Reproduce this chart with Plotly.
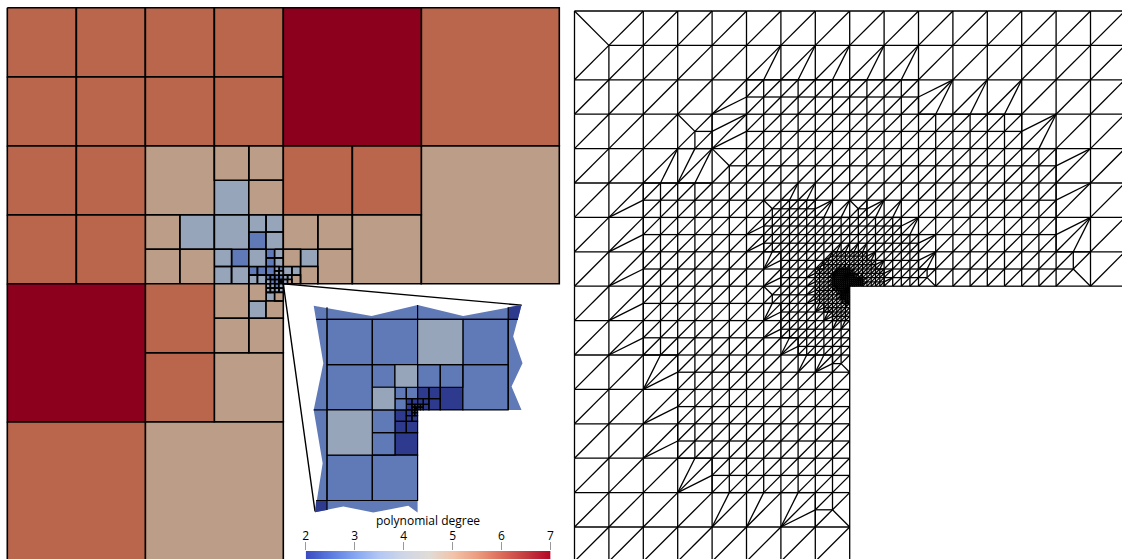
import plotly.graph_objects as go

# ---------- left panel: polynomial degree per quadtree cell (column, row, degree), one list per cell size
left_size2 = [(4,0,7),(6,0,6),(6,2,5),(0,4,7),(0,6,6),(2,6,5)]
left_size1 = [(0,0,6),(1,0,6),(2,0,6),(3,0,6),(0,1,6),(1,1,6),(2,1,6),(3,1,6),(0,2,6),(1,2,6),(2,2,5),
              (4,2,6),(5,2,6),(0,3,6),(1,3,6),(5,3,5),(2,4,6),(2,5,6),(3,5,5)]
left_half = [(3,2,5),(3.5,2,5),(3,2.5,4),(3.5,2.5,5),(2,3,5),(2.5,3,4),(2,3.5,5),(2.5,3.5,5),(3,3,4),
             (4,3,5),(4.5,3,5),(4.5,3.5,5),(3,4,5),(3,4.5,5),(3.5,4.5,5)]
left_quarter = [(3.5,3,4),(3.75,3,4),(3.5,3.25,3),(3.75,3.25,4),(3,3.5,4),(3.25,3.5,3),(3,3.75,4),(3.25,3.75,4),
                (3.5,3.5,4),(4,3.5,5),(4.25,3.5,4),(4.25,3.75,5),(3.5,4,5),(3.5,4.25,4),(3.75,4.25,5)]
left_eighth = [(3.75,3.5,3),(3.875,3.5,4),(3.75,3.625,3),(3.875,3.625,4),(3.5,3.75,3),(3.625,3.75,3),
               (3.5,3.875,4),(3.625,3.875,4),(4.125,3.75,4),(4.125,3.875,5),(3.75,4.125,4),(3.875,4.125,5),
               (3.75,3.75,3),(4,3.75,4)]
left_16th = [(3.875,3.75,4),(3.9375,3.75,3),(3.875,3.8125,4),(3.9375,3.8125,4),
             (3.75,3.875,3),(3.8125,3.875,3),(3.75,3.9375,4),(3.8125,3.9375,3),
             (3.875,3.875,3),(3.9375,3.875,3),(3.875,3.9375,3),
             (4,3.875,4),(4.0625,3.875,4),(4,3.9375,4),(4.0625,3.9375,5),
             (3.75,4,4),(3.8125,4,4),(3.75,4.0625,4),(3.8125,4.0625,4),
             (3.875,4,3),(3.9375,4,4),(3.875,4.0625,4),(3.9375,4.0625,4)]
left_32nd = [(3.9375,3.9375,3),(3.96875,3.9375,3),(3.9375,3.96875,3),(3.96875,3.96875,2)]
left_sizes = [(2,left_size2),(1,left_size1),(.5,left_half),(.25,left_quarter),(.125,left_eighth),
              (.0625,left_16th),(.03125,left_32nd)]

# ---------- inset: zoomed corner of the same mesh
inset_size1 = [(0,0,3),(1,0,3),(2,0,4),(3,0,3),(0,1,3),(3,1,3),(0,2,4),(0,3,3),(1,3,3)]
inset_half = [(1,1,3),(1.5,1,4),(1,1.5,4),(2,1,3),(2.5,1,3),(2.5,1.5,2),(1,2,3),(1,2.5,3),(1.5,2.5,2)]
inset_quarter = [(1.5,1.5,3),(1.75,1.5,3),(1.5,1.75,3),(2,1.5,2),(2.25,1.5,2),(2.25,1.75,2),
                 (1.5,2,2),(1.5,2.25,2),(1.75,2.25,2)]
inset_eighth = [(1.75,1.75,2),(1.875,1.75,2),(1.75,1.875,2),(2,1.75,2),(2.125,1.75,2),(2.125,1.875,2),
                (1.75,2,2),(1.75,2.125,2),(1.875,2.125,2)]
inset_16th = [(1.875,1.875,2),(1.9375,1.875,2),(1.875,1.9375,2),
              (2,1.875,2),(2.0625,1.875,2),(2,1.9375,2),(2.0625,1.9375,2),
              (1.875,2,2),(1.9375,2,2),(1.875,2.0625,2),(1.9375,2.0625,2)]
inset_32nd = [(1.9375,1.9375,2),(1.96875,1.9375,2),(1.9375,1.96875,2),(1.96875,1.96875,2)]
inset_sizes = [(1,inset_size1),(.5,inset_half),(.25,inset_quarter),(.125,inset_eighth),(.0625,inset_16th),(.03125,inset_32nd)]

inset_outline_u = [-.294,.985,2,3.007,4.294,4.11,4.316,4.074,4.294,2,2,1.794,1.022,.36,-.265,-.096,-.294,-.081,-.294]
inset_outline_v = [-.301,-.074,-.316,-.074,-.316,.382,.971,1.485,2,2,4.265,4.118,4.265,4.132,4.257,3.176,2,.971,-.301]
inset_corner_tr_u = [4,4.294,4.215,4]
inset_corner_tr_v = [-.265,-.316,0,0]
inset_corner_bl_u = [-.24,0,0,-.265]
inset_corner_bl_v = [4,4,4.21,4.257]
inset_line_u = [[-.24,4.215],[0,0],[4,4],[-.24,2],[2,2],[-.294,0]]
inset_line_v = [[0,0],[-.265,4.21],[-.265,2],[4,4],[-.316,0],[2,2]]

wedge_u = [7.455,4,4.46]
wedge_v = [4.31,4,7.30]

# ---------- right panel: triangular mesh, refinement spans (row, first column, end column) per level
refine_half = [(2,5,10),(3,5,13),(4,5,14),(5,2,14),(6,2,14),(7,2,14),
               (8,2,8),(9,2,8),(10,3,8),(11,3,8),(12,3,8),(13,4,8)]
refine_quarter = [(5.5,6,7),(6,5.5,9.5),(6.5,5.5,10),(7,6,10),(7.5,6,10),(8,6,8),(8.5,6,8),(9,6,8),(9.5,6.5,8)]
refine_eighth = [(7,7.5,8.5),(7.25,7.25,8.75),(7.5,7,9),(7.75,7,9),(8,7,8),(8.25,7,8),(8.5,7.25,8),(8.75,7.5,8)]
refine_16th = [(7.5,7.625,8),(7.625,7.5,8.125),(7.75,7.5,8.375),(7.875,7.5,8.375),
               (8,7.625,8),(8.125,7.75,8),(8.25,7.75,8),(8.375,7.875,8)]
pattern_br = [(0,0,2),(3,3,1),(4,4,1),(5.5,5.5,.5),(8,5.5,.5),(5.5,8,.5)]
pattern_tl = [(14,7,1),(7,14,1),(10,7.5,.5),(7.5,10,.5)]

# ---------- colour bar
tick_values = [2,3,4,5,6,7]
bar_title = "polynomial degree"
degree_colors = {2:"#2e3a8e",3:"#607ab8",4:"#96a5ba",5:"#bc9d87",6:"#ba664d",7:"#8c001e"}
coolwarm = [[0,"#3b4cc0"],[.1,"#5b7be0"],[.2,"#86a6f2"],[.3,"#b4c8f4"],[.4,"#d0d6e6"],[.5,"#e0dcd8"],
            [.6,"#f2c4aa"],[.7,"#ec9c80"],[.8,"#dc6a58"],[.9,"#c43a40"],[1,"#b40426"]]

W, H = 1122, 559
def axrange(origin, unit, n):
    return [-origin/unit, (n-origin)/unit]

def cell_traces(sizes, axis, lw):
    by_deg = {}
    for s, cells in sizes:
        for c, r, d in cells:
            X, Y = by_deg.setdefault(d, ([], []))
            X += [c, c+s, c+s, c, c, None]
            Y += [r, r, r+s, r+s, r, None]
    return [go.Scatter(x=X, y=Y, fill="toself", fillcolor=degree_colors[d], mode="lines",
                       line=dict(color="black", width=lw, simplify=False), hoverinfo="skip", showlegend=False,
                       xaxis="x"+axis, yaxis="y"+axis)
            for d, (X, Y) in sorted(by_deg.items())]

# ---- triangular mesh construction
def in_span(spans, x, y):
    return any(r == y and a <= x < b for r, a, b in spans)

levels = {1: refine_half, .5: refine_quarter, .25: refine_eighth, .125: refine_16th}
tris = []
def square(x, y, s):
    bl, br, tr, tl = (x, y+s), (x+s, y+s), (x+s, y), (x, y)
    tris.append((bl, br, tr)); tris.append((bl, tr, tl))
def leaf(x, y, s):
    if (x, y, s) in pattern_br:
        h = s/2; C = (x+h, y+h)
        bl, tr, tl = (x, y+s), (x+s, y), (x, y)
        tris.extend([(bl, C, tl), (tl, C, tr), (bl, (x+h, y+s), C), (tr, C, (x+s, y+h))])
        square(x+h, y+h, h); return
    if (x, y, s) in pattern_tl:
        h = s/2; C = (x+h, y+h)
        bl, br, tr = (x, y+s), (x+s, y+s), (x+s, y)
        tris.extend([(bl, br, C), (br, tr, C), (bl, C, (x, y+h)), (tr, (x+h, y), C)])
        square(x, y, h); return
    if s in levels and in_span(levels[s], x, y):
        h = s/2
        for dx in (0, h):
            for dy in (0, h):
                leaf(x+dx, y+dy, h)
        return
    square(x, y, s)

for c in range(16):
    for r in range(16):
        if c >= 8 and r >= 8: continue
        if c < 2 and r < 2: continue
        leaf(float(c), float(r), 1.0)
leaf(0.0, 0.0, 2.0)

verts = {v for t in tris for v in t}
edges = set()
def add(a, b):
    edges.add((min(a, b), max(a, b)))
def hanging(a, b):
    m = ((a[0]+b[0])/2, (a[1]+b[1])/2)
    if abs(a[0]-b[0]) < 1e-4 and abs(a[1]-b[1]) < 1e-4: return []
    if m in verts:
        return hanging(a, m) + [m] + hanging(m, b)
    return []
for t in tris:
    for i in range(3):
        a, b, o = t[i], t[(i+1) % 3], t[(i+2) % 3]
        add(a, b)
        if a[0] == b[0] or a[1] == b[1]:
            for m in hanging(a, b):
                add(o, m)
mx, my = [], []
for a, b in sorted(edges):
    mx += [a[0], b[0], None]; my += [a[1], b[1], None]

traces = []
traces += cell_traces(left_sizes, "", 1.6)
traces.append(go.Scatter(x=wedge_u, y=wedge_v, mode="lines", line=dict(color="black", width=1.4),
                         hoverinfo="skip", showlegend=False, xaxis="x", yaxis="y"))
traces.append(go.Scatter(x=inset_outline_u, y=inset_outline_v, fill="toself", fillcolor=degree_colors[3], mode="none",
                         hoverinfo="skip", showlegend=False, xaxis="x2", yaxis="y2"))
for U, V in ((inset_corner_tr_u, inset_corner_tr_v), (inset_corner_bl_u, inset_corner_bl_v)):
    traces.append(go.Scatter(x=U, y=V, fill="toself", fillcolor=degree_colors[2], mode="none",
                             hoverinfo="skip", showlegend=False, xaxis="x2", yaxis="y2"))
traces += cell_traces(inset_sizes, "2", 1.2)
for U, V in zip(inset_line_u, inset_line_v):
    traces.append(go.Scatter(x=U, y=V, mode="lines", line=dict(color="black", width=1.2),
                             hoverinfo="skip", showlegend=False, xaxis="x2", yaxis="y2"))
traces.append(go.Scatter(x=mx, y=my, mode="lines", line=dict(color="black", width=1.3, simplify=False),
                         hoverinfo="skip", showlegend=False, xaxis="x3", yaxis="y3"))
traces.append(go.Heatmap(x=tick_values, y=[0,1], z=[tick_values, tick_values], zmin=2, zmax=7, zsmooth="best",
                         colorscale=coolwarm, showscale=False, hoverinfo="skip", xaxis="x4", yaxis="y4"))

fig = go.Figure(traces)
hidden = dict(visible=False, fixedrange=True, domain=[0,1], automargin=False)
L = (7.3, 7.8, 69.0)
I = (327.0, 319.3, 45.3)
R = (574.5, 11.0, 34.4)
def yr(o, u):
    a = axrange(o, u, H)
    return [a[1], a[0]]
fig.update_layout(
    template="none",
    width=W, height=H, margin=dict(l=0, r=0, t=0, b=0, autoexpand=False), autosize=False,
    paper_bgcolor="white", plot_bgcolor="rgba(0,0,0,0)", showlegend=False,
    xaxis=dict(hidden, range=axrange(L[0], L[2], W), anchor="y"),
    yaxis=dict(hidden, range=yr(L[1], L[2]), anchor="x"),
    xaxis2=dict(hidden, range=axrange(I[0], I[2], W), anchor="y2"),
    yaxis2=dict(hidden, range=yr(I[1], I[2]), anchor="x2"),
    xaxis3=dict(hidden, range=axrange(R[0], R[2], W), anchor="y3"),
    yaxis3=dict(hidden, range=yr(R[1], R[2]), anchor="x3"),
    xaxis4=dict(domain=[305.7/W, 550.5/W], range=[2,7], anchor="y4", side="top", tickvals=tick_values,
                ticks="outside", ticklen=8, tickcolor="#999999", tickwidth=1, showgrid=False, zeroline=False,
                showline=False, fixedrange=True, automargin=False, ticklabelstandoff=-3,
                tickfont=dict(family="Open Sans", size=12, color="black")),
    yaxis4=dict(domain=[0, 8/H], range=[0,1], anchor="x4", visible=False, fixedrange=True),
    annotations=[dict(text=bar_title, xref="paper", yref="paper", x=428/W, y=1-520/H, showarrow=False,
                      xanchor="center", yanchor="middle", font=dict(family="Open Sans", size=12, color="black"))],
)
fig.write_html("out.html", post_script="document.body.style.margin='0';document.documentElement.style.overflow='hidden';",
               config=dict(displayModeBar=False, responsive=False))
